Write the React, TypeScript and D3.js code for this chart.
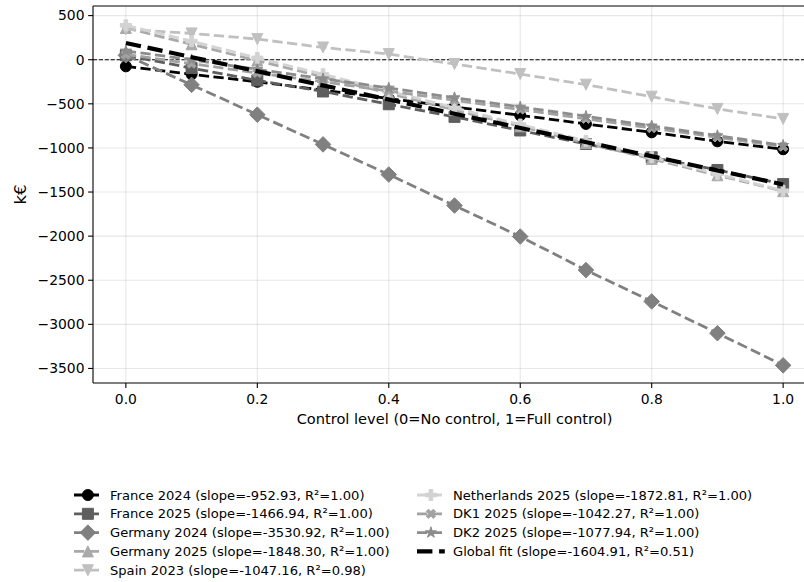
import React from "react";
import * as d3 from "d3";

const controlLevels = [0, 0.1, 0.2, 0.3, 0.4, 0.5, 0.6, 0.7, 0.8, 0.9, 1.0];

const france2024 = [-75, -165, -250, -345, -440, -535, -630, -728, -823, -925, -1015];
const france2025 = [50, -95, -235, -360, -505, -648, -802, -955, -1106, -1250, -1410];
const germany2024 = [50, -285, -623, -960, -1302, -1653, -2005, -2385, -2740, -3100, -3465];
const germany2025 = [360, 175, -10, -195, -380, -570, -755, -945, -1125, -1310, -1490];
const spain2023 = [345, 298, 234, 139, 64, -49, -162, -283, -419, -558, -671];
const netherlands2025 = [390, 210, 20, -165, -355, -545, -735, -920, -1105, -1295, -1485];
const dk12025 = [60, -45, -150, -250, -355, -460, -565, -670, -775, -880, -985];
const dk22025 = [100, 0, -110, -215, -320, -430, -535, -640, -750, -860, -970];

const globalFitX = [0, 1];
const globalFitY = [190, -1415];

const seriesNames = [
  "France 2024 (slope=-952.93, R²=1.00)",
  "France 2025 (slope=-1466.94, R²=1.00)",
  "Germany 2024 (slope=-3530.92, R²=1.00)",
  "Germany 2025 (slope=-1848.30, R²=1.00)",
  "Spain 2023 (slope=-1047.16, R²=0.98)",
  "Netherlands 2025 (slope=-1872.81, R²=1.00)",
  "DK1 2025 (slope=-1042.27, R²=1.00)",
  "DK2 2025 (slope=-1077.94, R²=1.00)",
];
const globalFitName = "Global fit (slope=-1604.91, R²=0.51)";

const seriesValues = [france2024, france2025, germany2024, germany2025, spain2023, netherlands2025, dk12025, dk22025];
const seriesColors = ["#000000", "#5e5e5e", "#808080", "#a9a9a9", "#c0c0c0", "#d3d3d3", "#a2a2a2", "#8c8c8c"];
const seriesMarkers = ["o", "s", "D", "^", "v", "P", "X", "*"];

const yTicks = [500, 0, -500, -1000, -1500, -2000, -2500, -3000, -3500];
const xTicks = [0, 0.2, 0.4, 0.6, 0.8, 1.0];

const W = 804;
const H = 582;
const left = 93;
const right = 816;
const top = 6;
const bottom = 383;
const FONT = "DejaVu Sans, sans-serif";
const FS = 13.9;
const LFS = 13.1;
const XLFS = 14.6;
const YLFS = 16.5;
const MS = 11;

function polyPath(pts: number[][]) {
  return "M" + pts.map((p) => p[0].toFixed(2) + "," + p[1].toFixed(2)).join("L") + "Z";
}

function markerPath(type: string, s: number): string {
  const h = s / 2;
  switch (type) {
    case "s":
      return polyPath([[-h, -h], [h, -h], [h, h], [-h, h]]);
    case "D": {
      const r = s * 0.7071;
      return polyPath([[0, -r], [r, 0], [0, r], [-r, 0]]);
    }
    case "^":
      return polyPath([[0, -h], [h, h], [-h, h]]);
    case "v":
      return polyPath([[0, h], [h, -h], [-h, -h]]);
    case "P": {
      const u = s / 6;
      const pts = [[-1, -3], [1, -3], [1, -1], [3, -1], [3, 1], [1, 1], [1, 3], [-1, 3], [-1, 1], [-3, 1], [-3, -1], [-1, -1]];
      return polyPath(pts.map((p) => [p[0] * u, p[1] * u]));
    }
    case "X": {
      const u = s / 6;
      const pts = [[-1, -3.2], [1, -3.2], [1, -1], [3.2, -1], [3.2, 1], [1, 1], [1, 3.2], [-1, 3.2], [-1, 1], [-3.2, 1], [-3.2, -1], [-1, -1]];
      const c = Math.cos(Math.PI / 4);
      return polyPath(pts.map((p) => [(p[0] * c - p[1] * c) * u * 0.85, (p[0] * c + p[1] * c) * u * 0.85]));
    }
    case "*": {
      const pts: number[][] = [];
      const R = h * 1.05;
      const r = R * 0.381966;
      for (let i = 0; i < 10; i++) {
        const a = -Math.PI / 2 + (i * Math.PI) / 5;
        const rr = i % 2 === 0 ? R : r;
        pts.push([rr * Math.cos(a), rr * Math.sin(a)]);
      }
      return polyPath(pts);
    }
    default:
      return "";
  }
}

function Marker({ type, x, y, color }: { type: string; x: number; y: number; color: string }) {
  if (type === "o") {
    return <circle cx={x} cy={y} r={MS / 2} fill={color} stroke={color} strokeWidth={1} />;
  }
  return <path d={markerPath(type, MS)} transform={`translate(${x},${y})`} fill={color} stroke={color} strokeWidth={1} strokeLinejoin="miter" />;
}

export default function App() {
  const x = d3.scaleLinear().domain([-0.05, 1.05]).range([left, right]);
  const y = d3.scaleLinear().domain([-3665, 609]).range([bottom, top]);
  const line = d3
    .line<number>()
    .x((_, i) => x(controlLevels[i]))
    .y((d) => y(d));
  const fitLine = d3
    .line<number>()
    .x((_, i) => x(globalFitX[i]))
    .y((d) => y(d));

  const legendRowY = (i: number) => 495 + i * 18.8;
  const col1 = { hx: 74, tx: 110 };
  const col2 = { hx: 417, tx: 453 };
  const legendItems = seriesNames.map((name, i) => ({ name, i }));

  return (
    <svg width={W} height={H} style={{ position: "absolute", left: 0, top: 0, background: "#fff" }} fontFamily={FONT}>
      <defs>
        <clipPath id="plotclip">
          <rect x={left} y={top} width={right - left} height={bottom - top} />
        </clipPath>
      </defs>
      <rect x={0} y={0} width={W} height={H} fill="#fff" />
      <g stroke="#b0b0b0" strokeOpacity={0.3} strokeWidth={1.1}>
        {xTicks.map((t) => (
          <line key={"gx" + t} x1={x(t)} x2={x(t)} y1={top} y2={bottom} />
        ))}
        {yTicks.map((t) => (
          <line key={"gy" + t} x1={left} x2={right} y1={y(t)} y2={y(t)} />
        ))}
      </g>
      <g clipPath="url(#plotclip)">
        <line x1={left} x2={right} y1={y(0)} y2={y(0)} stroke="#000" strokeWidth={1.1} strokeDasharray="4.1,1.8" />
        {seriesValues.map((vals, si) => (
          <g key={"s" + si}>
            <path d={line(vals) || ""} fill="none" stroke={seriesColors[si]} strokeWidth={2.78} strokeDasharray="10.3,4.4" />
            {vals.map((v, i) => (
              <Marker key={i} type={seriesMarkers[si]} x={x(controlLevels[i])} y={y(v)} color={seriesColors[si]} />
            ))}
          </g>
        ))}
        <path d={fitLine(globalFitY) || ""} fill="none" stroke="#000" strokeWidth={4.17} strokeDasharray="15.4,6.7" />
      </g>
      <g stroke="#000" strokeWidth={1.1} fill="none">
        <line x1={left} x2={left} y1={top} y2={bottom} />
        <line x1={left} x2={right} y1={bottom} y2={bottom} />
        <line x1={left} x2={right} y1={top} y2={top} />
        <line x1={right} x2={right} y1={top} y2={bottom} />
      </g>
      {yTicks.map((t) => (
        <g key={"yt" + t}>
          <line x1={left - 4.9} x2={left} y1={y(t)} y2={y(t)} stroke="#000" strokeWidth={1.1} />
          <text x={left - 8.5} y={y(t)} dy="0.35em" textAnchor="end" fontSize={FS} fill="#000">
            {t < 0 ? "\u2212" + Math.abs(t) : String(t)}
          </text>
        </g>
      ))}
      {xTicks.map((t) => (
        <g key={"xt" + t}>
          <line x1={x(t)} x2={x(t)} y1={bottom} y2={bottom + 4.9} stroke="#000" strokeWidth={1.1} />
          <text x={x(t)} y={bottom + 20.5} textAnchor="middle" fontSize={FS} fill="#000">
            {t.toFixed(1)}
          </text>
        </g>
      ))}
      <text x={(left + right) / 2} y={423.5} textAnchor="middle" fontSize={XLFS} fill="#000">
        Control level (0=No control, 1=Full control)
      </text>
      <text transform={`translate(26,${(top + bottom) / 2}) rotate(-90)`} textAnchor="middle" fontSize={YLFS} fill="#000">
        k€
      </text>
      {legendItems.map(({ name, i }) => {
        const col = i < 5 ? col1 : col2;
        const row = i < 5 ? i : i - 5;
        const cy = legendRowY(row);
        return (
          <g key={"lg" + i}>
            <line x1={col.hx} x2={col.hx + 27.8} y1={cy} y2={cy} stroke={seriesColors[i]} strokeWidth={2.78} strokeDasharray="10.3,4.4" />
            <Marker type={seriesMarkers[i]} x={col.hx + 13.9} y={cy} color={seriesColors[i]} />
            <text x={col.tx} y={cy} dy="0.35em" fontSize={LFS} fill="#000">
              {name}
            </text>
          </g>
        );
      })}
      <g>
        <line x1={col2.hx} x2={col2.hx + 27.8} y1={legendRowY(3)} y2={legendRowY(3)} stroke="#000" strokeWidth={4.17} strokeDasharray="15.4,6.7" />
        <text x={col2.tx} y={legendRowY(3)} dy="0.35em" fontSize={LFS} fill="#000">
          {globalFitName}
        </text>
      </g>
    </svg>
  );
}
